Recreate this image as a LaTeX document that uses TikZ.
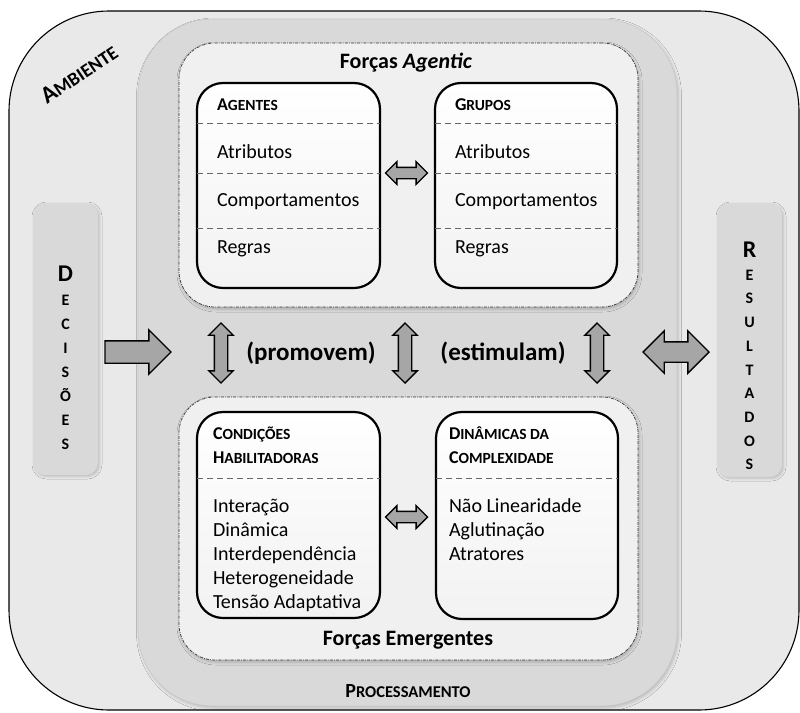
\documentclass[tikz,border=0pt]{standalone}
\usepackage{fontspec}
\setmainfont{Carlito}
\usetikzlibrary{shapes.arrows,shadows.blur}

\definecolor{envgray}{HTML}{E9E9E9}
\definecolor{procgray}{HTML}{D9D9D9}
\definecolor{procedge}{HTML}{C8C8C8}
\definecolor{groupgray}{HTML}{F0F0F0}
\definecolor{boxbottom}{HTML}{F2F2F2}
\definecolor{arrowgray}{HTML}{A6A6A6}

% bold heading in the style of small capitals: big first letter, smaller rest
\newcommand\headsc[4]{{\fontsize{#1}{20}\selectfont #3}{\fontsize{#2}{20}\selectfont #4}}

\begin{document}
\begin{tikzpicture}[x=1pt,y=-1pt,
  every node/.style={inner sep=0pt, outer sep=0pt},
  envframe/.style={draw=black, line width=1.1pt, fill=envgray, rounded corners=100pt},
  procframe/.style={fill=procgray, draw=procedge, line width=0.6pt, rounded corners=75pt,
    blur shadow={shadow xshift=1.5pt, shadow yshift=-2pt, shadow blur radius=3pt, shadow opacity=20}},
  groupframe/.style={fill=groupgray, draw=black!80, line width=0.7pt,
    dash pattern=on 3pt off 1.2pt on 0.8pt off 1.2pt, rounded corners=36pt,
    blur shadow={shadow xshift=1pt, shadow yshift=-2pt, shadow blur radius=3pt, shadow opacity=22}},
  itembox/.style={draw=black, line width=2.2pt, rounded corners=26pt, top color=white, bottom color=boxbottom},
  sidebox/.style={fill=procgray, rounded corners=12pt,
    blur shadow={shadow xshift=1.5pt, shadow yshift=-1.5pt, shadow blur radius=2.5pt, shadow opacity=20}},
  sepline/.style={draw=black!60, line width=0.8pt, dash pattern=on 6pt off 4pt},
  bodytext/.style={font=\fontsize{20}{24}\selectfont, anchor=base west},
  headtext/.style={font=\bfseries, anchor=base west},
  titletext/.style={font=\bfseries\fontsize{22}{26}\selectfont, anchor=base},
  verbtext/.style={font=\bfseries\fontsize{25}{30}\selectfont},
  sideletter/.style={font=\bfseries\fontsize{16}{18}\selectfont, anchor=base},
  sidefirst/.style={font=\bfseries\fontsize{24}{26}\selectfont, anchor=base},
  fatarrow/.style={draw=black, line width=1.4pt, fill=arrowgray}
]
\useasboundingbox (0,0) rectangle (800,712);

% environment, processing area and the two groups of forces
\node[envframe, minimum width=790, minimum height=699] (env) at (404,360.5) {};
\node[procframe, minimum width=539, minimum height=687] (proc) at (407.5,362.5) {};
\node[groupframe, minimum width=459, minimum height=264] (agentic) at (408.5,175) {};
\node[groupframe, minimum width=459, minimum height=263] (emergent) at (408.5,528.5) {};

\node[rotate=34, font=\bfseries] (ambiente) at (79,74) {\headsc{24}{19}{A}{MBIENTE}};
\node[titletext] (agentictitle) at (406,68) {Forças \textit{Agentic}};
\node[titletext] (emergenttitle) at (408,645) {Forças Emergentes};
\node[font=\bfseries, anchor=base] (proctitle) at (408,697) {\headsc{20}{16.5}{P}{ROCESSAMENTO}};

% agents and groups
\node[itembox, minimum width=183, minimum height=205] (agentes) at (288.5,185.5) {};
\node[itembox, minimum width=182, minimum height=205] (grupos) at (526,185.5) {};
\foreach \b in {agentes,grupos}{
  \draw[sepline] (\b.west |- 0,123) -- (\b.east |- 0,123);
  \draw[sepline] (\b.west |- 0,173) -- (\b.east |- 0,173);
  \draw[sepline] (\b.west |- 0,228) -- (\b.east |- 0,228);
}
\node[headtext] (agentes-h) at (217,110) {\headsc{18}{15.5}{A}{GENTES}};
\node[bodytext] (agentes-a) at (217,158) {Atributos};
\node[bodytext] (agentes-c) at (217,206) {Comportamentos};
\node[bodytext] (agentes-r) at (217,253) {Regras};
\node[headtext] (grupos-h) at (455,110) {\headsc{18}{15.5}{G}{RUPOS}};
\node[bodytext] (grupos-a) at (455,158) {Atributos};
\node[bodytext] (grupos-c) at (455,206) {Comportamentos};
\node[bodytext] (grupos-r) at (455,253) {Regras};

% enabling conditions and complexity dynamics
\node[itembox, minimum width=183, minimum height=206] (condicoes) at (288.5,515) {};
\node[itembox, minimum width=182, minimum height=207] (dinamicas) at (527,515.5) {};
\draw[sepline] (condicoes.west |- 0,478) -- (condicoes.east |- 0,478);
\draw[sepline] (dinamicas.west |- 0,478) -- (dinamicas.east |- 0,478);
\node[headtext] (condicoes-h1) at (213,439) {\headsc{18}{15.5}{C}{ONDIÇÕES}};
\node[headtext] (condicoes-h2) at (213,463) {\headsc{18}{15.5}{H}{ABILITADORAS}};
\node[bodytext] (cond-1) at (213,512) {Interação};
\node[bodytext] (cond-2) at (213,536) {Dinâmica};
\node[bodytext] (cond-3) at (213,560) {Interdependência};
\node[bodytext] (cond-4) at (213,584) {Heterogeneidade};
\node[bodytext] (cond-5) at (213,608) {Tensão Adaptativa};
\node[headtext] (dinamicas-h1) at (449,439) {\headsc{18}{15.5}{D}{INÂMICAS DA}};
\node[headtext] (dinamicas-h2) at (449,463) {\headsc{18}{15.5}{C}{OMPLEXIDADE}};
\node[bodytext] (din-1) at (449,512) {Não Linearidade};
\node[bodytext] (din-2) at (449,536) {Aglutinação};
\node[bodytext] (din-3) at (449,560) {Atratores};

% arrows between the boxes
\node[fatarrow, double arrow, minimum height=42, inner sep=5pt, double arrow head extend=5.7pt] (agarrow) at (406.5,173) {};
\node[fatarrow, double arrow, minimum height=42, inner sep=5pt, double arrow head extend=5.7pt] (emarrow) at (406.5,517) {};
\node[fatarrow, double arrow, rotate=90, minimum height=60, inner sep=6pt, double arrow head extend=5.5pt] (varrow1) at (221,353) {};
\node[fatarrow, double arrow, rotate=90, minimum height=60, inner sep=6pt, double arrow head extend=5.5pt] (varrow2) at (405,353) {};
\node[fatarrow, double arrow, rotate=90, minimum height=60, inner sep=6pt, double arrow head extend=5.5pt] (varrow3) at (597,353) {};
\node[verbtext] (promovem) at (311,353) {(promovem)};
\node[verbtext] (estimulam) at (503,353) {(estimulam)};

% decisions in, results out
\node[sidebox, minimum width=65, minimum height=272] (decisoes) at (65.5,339) {};
\node[sidebox, minimum width=65, minimum height=274] (resultados) at (749.5,340) {};
\node[sidefirst] (dec0) at (65.5,281) {D};
\foreach \ch [count=\i] in {E,C,I,S,Õ,E,S}
  \node[sideletter] (dec\i) at (65.5,281+24*\i) {\ch};
\node[sidefirst] (res0) at (749.5,257) {R};
\foreach \ch [count=\i] in {E,S,U,L,T,A,D,O,S}
  \node[sideletter] (res\i) at (749.5,256.5+23.7*\i) {\ch};

\node[fatarrow, single arrow, minimum height=66, inner sep=10.5pt, single arrow head extend=11pt, anchor=tip] (decarrow) at (171,352) {};
\node[fatarrow, double arrow, minimum height=66, inner sep=9.5pt, double arrow head extend=11pt] (resarrow) at (676,352) {};
\end{tikzpicture}
\end{document}
